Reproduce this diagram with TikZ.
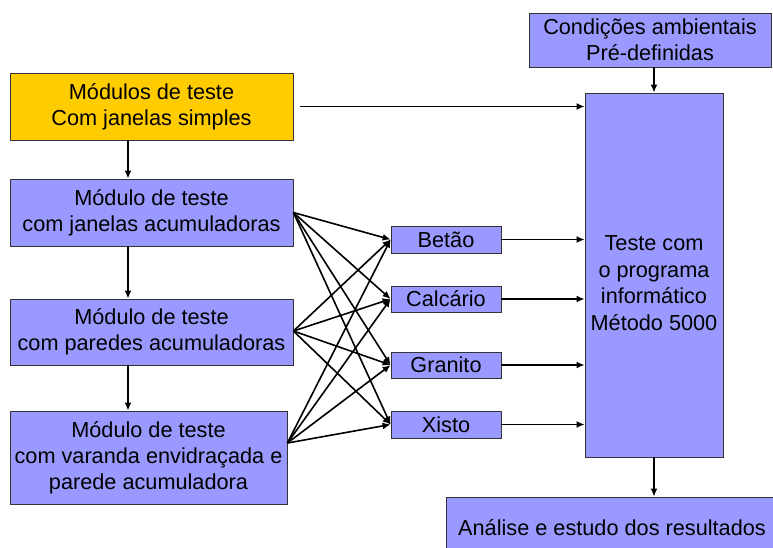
\documentclass[tikz,border=0pt]{standalone}
\usepackage{fontspec}
\setmainfont{Liberation Sans}
\usetikzlibrary{arrows.meta}
\definecolor{boxblue}{HTML}{9999FF}
\definecolor{boxyellow}{HTML}{FFCC00}
\begin{document}
\begin{tikzpicture}[x=1pt,y=-1pt,
  box/.style={draw=black!80,line width=0.8pt,fill=boxblue,rectangle,align=center,inner sep=0pt,
    font=\fontsize{21.7}{26}\selectfont},
  txt/.style={align=center,inner sep=0pt,font=\fontsize{21.7}{26.5}\selectfont},
  arr/.style={draw=black,line width=1.6pt,-{Latex[length=8pt,width=7pt]}}]
\useasboundingbox (0,0) rectangle (773,547);
\clip (0,0) rectangle (773,547);
\fill[white] (0,0) rectangle (773,547);
\node[box,minimum width=242pt,minimum height=54pt] (cond) at (650,40) {Condições ambientais\\Pré-definidas};
\node[box,fill=boxyellow,minimum width=283pt,minimum height=67pt] (simples) at (151.5,106.5) {Módulos de teste\\Com janelas simples};
\node[box,minimum width=283pt,minimum height=67pt] (acum1) at (151.5,212.5) {Módulo de teste\\com janelas acumuladoras};
\node[box,minimum width=283pt,minimum height=66pt] (acum2) at (151.5,332) {Módulo de teste\\com paredes acumuladoras};
\node[box,minimum width=277pt,minimum height=93pt] (acum3) at (148.5,457.5) {Módulo de teste\\com varanda envidraçada e\\parede acumuladora};
\node[box,minimum width=138pt,minimum height=364pt] (big) at (654,275) {};
\node[txt] (bigtext) at (654,283) {Teste com\\o programa\\informático\\Método 5000};
\node[box,minimum width=110pt,minimum height=27pt] (betao) at (446,239.5) {Betão};
\node[box,minimum width=110pt,minimum height=26pt] (calc) at (446,299) {Calcário};
\node[box,minimum width=110pt,minimum height=26pt] (gran) at (446,365) {Granito};
\node[box,minimum width=110pt,minimum height=27pt] (xisto) at (446,424.5) {Xisto};
\node[box,minimum width=332pt,minimum height=62pt] (anal) at (612,528) {Análise e estudo dos resultados};
% vertical chain
\coordinate (vx) at (128,0);
\draw[arr] (simples.south -| vx) -- (acum1.north -| vx);
\draw[arr] (acum1.south -| vx) -- (acum2.north -| vx);
\draw[arr] (acum2.south -| vx) -- (acum3.north -| vx);
% top links
\coordinate (s0) at ([xshift=7pt]simples.east);
\draw[arr] (s0) -- (s0 -| big.west);
\draw[arr] (big.north |- cond.south) -- (big.north);
\draw[arr] (big.south) -- (big.south |- anal.north);
% fan
\coordinate (o1) at (acum1.east);
\coordinate (o2) at ([yshift=1pt]acum2.east);
\coordinate (o3) at ([yshift=14.5pt]acum3.east);
\foreach \o in {o1,o2,o3}{
  \foreach \m in {betao,calc,gran,xisto}{
    \draw[arr] (\o) -- (\m.west);
  }
}
% materials to test
\foreach \m in {betao,calc,gran,xisto}{
  \draw[arr] (\m.east) -- (\m.east -| big.west);
}
\end{tikzpicture}
\end{document}
